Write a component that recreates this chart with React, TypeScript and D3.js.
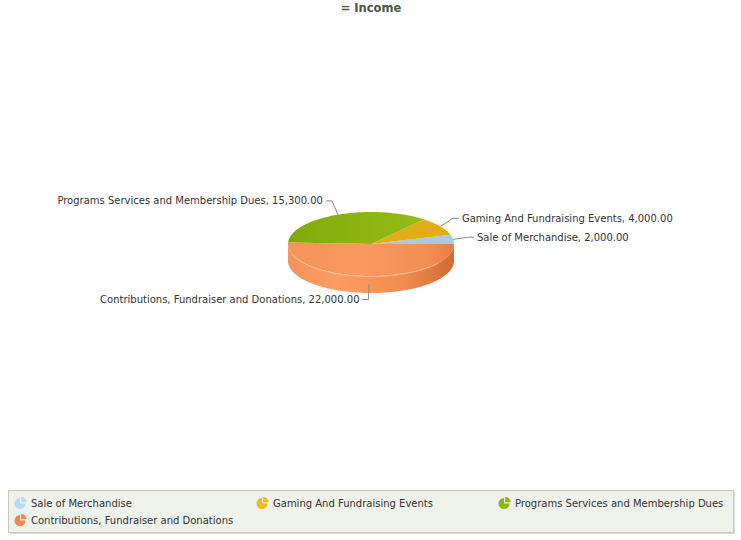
import React from "react";
import * as d3 from "d3";

const categories = [
  "Sale of Merchandise",
  "Gaming And Fundraising Events",
  "Programs Services and Membership Dues",
  "Contributions, Fundraiser and Donations",
];
const values = [2000, 4000, 15300, 22000];
const topColors = ["#a9c9e6", "#e2ad14", "#8cb50f", "#f8955a"];
const iconColors = ["#b9d8f7", "#f2b81c", "#8cb50f", "#f7864a"];
const titleText = "= Income";

const fontFamily = "Verdana, 'DejaVu Sans', sans-serif";

export default function App() {
  const width = 741;
  const height = 540;
  const cx = 371;
  const cy = 244;
  const rx = 83;
  const ry = 32;
  const depth = 17;

  const pie = d3.pie<number>().sort(null).value((d) => d);
  const arcs = pie(values);

  const pt = (a: number, dy = 0): [number, number] => [
    cx + rx * Math.cos(a),
    cy - ry * Math.sin(a) + dy,
  ];
  const line = d3.line();
  const sample = (a0: number, a1: number) => {
    const n = Math.max(2, Math.ceil(((a1 - a0) * 180) / Math.PI));
    return d3.range(n + 1).map((i) => a0 + ((a1 - a0) * i) / n);
  };

  const topPath = (a0: number, a1: number) =>
    line([[cx, cy], ...sample(a0, a1).map((a) => pt(a))]) + "Z";

  const sidePath = (a0: number, a1: number) => {
    const s = Math.max(a0, Math.PI);
    const e = Math.min(a1, 2 * Math.PI);
    if (e <= s) return null;
    const angs = sample(s, e);
    const top = angs.map((a) => pt(a));
    const bottom = angs.slice().reverse().map((a) => pt(a, depth));
    return line([...top, ...bottom]) + "Z";
  };

  const fmt = d3.format(",.2f");

  // legend
  const legendX = 8.5;
  const legendY = 490.5;
  const legendW = 725;
  const legendH = 42;
  const colW = 242;
  const rowH = 17;
  const iconArc = d3.arc<any>().innerRadius(0).outerRadius(5.5);

  return (
    <svg width={width} height={height} style={{ display: "block", position: "absolute", left: 0, top: 0 }}>
      <defs>
        <linearGradient id="sideGrad" x1="0" x2="1" y1="0" y2="0">
          <stop offset="0%" stopColor="#f3925a" />
          <stop offset="30%" stopColor="#fb9e64" />
          <stop offset="70%" stopColor="#f18b4f" />
          <stop offset="100%" stopColor="#d06a34" />
        </linearGradient>
        <linearGradient id="topGrad3" x1="0" x2="1" y1="0" y2="0">
          <stop offset="0%" stopColor="#f6925a" />
          <stop offset="45%" stopColor="#f9985f" />
          <stop offset="85%" stopColor="#f38e53" />
          <stop offset="100%" stopColor="#e47d43" />
        </linearGradient>
        <linearGradient id="topGrad2" x1="0" x2="1" y1="0" y2="0">
          <stop offset="0%" stopColor="#7eaa0a" />
          <stop offset="100%" stopColor="#96bd18" />
        </linearGradient>
      </defs>

      <text
        x={cx}
        y={12}
        textAnchor="middle"
        fontFamily={fontFamily}
        fontSize={11.5}
        fontWeight="bold"
        fill="#4d5540"
      >
        {titleText}
      </text>

      {/* sides */}
      {arcs.map((d, i) => {
        const p = sidePath(d.startAngle, d.endAngle);
        return p ? <path key={`s${i}`} d={p} fill="url(#sideGrad)" /> : null;
      })}

      {/* top faces */}
      {arcs.map((d, i) => (
        <path
          key={`t${i}`}
          d={topPath(d.startAngle, d.endAngle)}
          fill={i === 3 ? "url(#topGrad3)" : i === 2 ? "url(#topGrad2)" : topColors[i]}
        />
      ))}

      {/* rim highlight */}
      {arcs.map((d, i) => {
        const s = Math.max(d.startAngle, Math.PI * 1.1);
        const e = Math.min(d.endAngle, Math.PI * 1.8);
        if (e <= s) return null;
        return (
          <path
            key={`h${i}`}
            d={line(sample(s, e).map((a) => pt(a, 0.5))) || ""}
            fill="none"
            stroke="#ffcfae"
            strokeOpacity={0.7}
            strokeWidth={1}
          />
        );
      })}

      {/* labels */}
      {arcs.map((d, i) => {
        const mid = (d.startAngle + d.endAngle) / 2;
        const front = Math.sin(mid) < 0;
        const off = front ? depth / 2 : 0;
        const anchor = pt(mid, off);
        const elbow: [number, number] = [
          cx + (rx + 15) * Math.cos(mid),
          cy - (ry + 15) * Math.sin(mid) + off,
        ];
        const dir = Math.cos(mid) >= 0 ? 1 : -1;
        const end: [number, number] = [elbow[0] + dir * 6, elbow[1]];
        return (
          <g key={`l${i}`}>
            <path
              d={line([anchor, elbow, end]) || ""}
              fill="none"
              stroke="#8a8a8a"
              strokeWidth={1}
            />
            <text
              x={end[0] + dir * 3}
              y={end[1]}
              dy="0.35em"
              textAnchor={dir > 0 ? "start" : "end"}
              fontFamily={fontFamily}
              fontSize={10}
              fill="#333333"
            >
              {`${categories[i]}, ${fmt(values[i])}`}
            </text>
          </g>
        );
      })}

      {/* legend */}
      <rect
        x={legendX + 1.5}
        y={legendY + 1.5}
        width={legendW}
        height={legendH}
        fill="#d8d8d8"
      />
      <rect
        x={legendX}
        y={legendY}
        width={legendW}
        height={legendH}
        fill="#eff1eb"
        stroke="#c6c8bc"
      />
      {categories.map((c, i) => {
        const col = i % 3;
        const row = Math.floor(i / 3);
        const ix = 20 + col * colW;
        const iy = 503.5 + row * rowH;
        return (
          <g key={`g${i}`}>
            <g transform={`translate(${ix},${iy})`}>
              <path
                d={iconArc({ startAngle: Math.PI / 2, endAngle: Math.PI * 2 }) || ""}
                fill={iconColors[i]}
              />
              <path
                transform="translate(1.2,-1.2)"
                d={iconArc({ startAngle: 0, endAngle: Math.PI / 2 }) || ""}
                fill={iconColors[i]}
              />
            </g>
            <text
              x={ix + 11}
              y={iy}
              dy="0.35em"
              fontFamily={fontFamily}
              fontSize={10}
              fill="#333333"
            >
              {c}
            </text>
          </g>
        );
      })}
    </svg>
  );
}
